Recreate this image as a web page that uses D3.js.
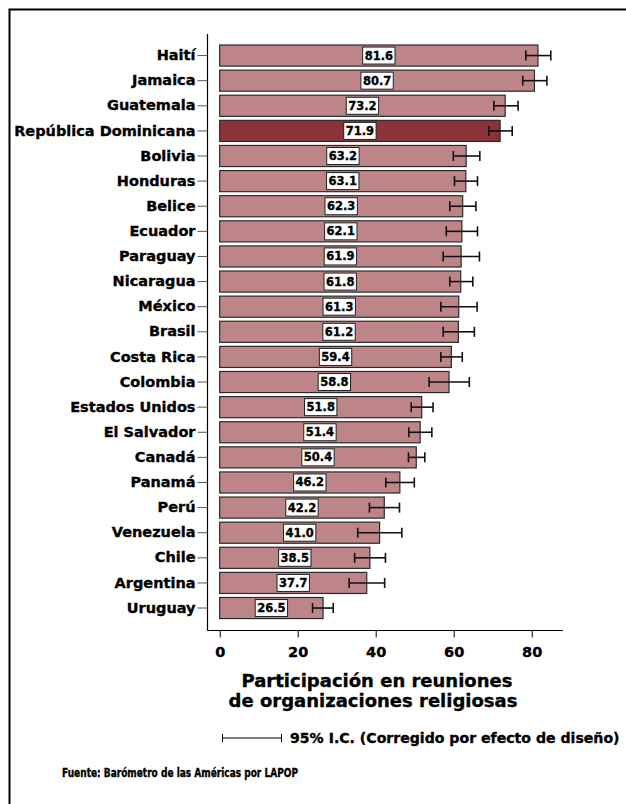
<!DOCTYPE html>
<html><head><meta charset="utf-8">
<script src="https://cdn.jsdelivr.net/npm/d3@7"></script>
<style>
html,body{margin:0;padding:0;background:#fff;}
svg text{font-family:"DejaVu Sans",sans-serif;font-weight:bold;fill:#000;stroke:#000;stroke-width:0.35px;}
</style></head>
<body>
<svg id="chart" width="626" height="804"></svg>
<script>
const countries = ["Haití","Jamaica","Guatemala","República Dominicana","Bolivia","Honduras","Belice","Ecuador","Paraguay","Nicaragua","México","Brasil","Costa Rica","Colombia","Estados Unidos","El Salvador","Canadá","Panamá","Perú","Venezuela","Chile","Argentina","Uruguay"];
const values = [81.6,80.7,73.2,71.9,63.2,63.1,62.3,62.1,61.9,61.8,61.3,61.2,59.4,58.8,51.8,51.4,50.4,46.2,42.2,41.0,38.5,37.7,26.5];
const lower = [78.5,77.7,70.3,69.0,59.9,60.2,59.0,58.1,57.3,59.0,56.7,57.3,56.7,53.7,49.1,48.5,48.4,42.6,38.4,35.4,34.6,33.2,23.8];
const upper = [84.9,83.9,76.5,75.0,66.7,66.1,65.7,66.1,66.6,64.9,66.0,65.3,62.2,64.0,54.7,54.4,52.6,49.9,46.1,46.7,42.5,42.3,29.1];
const highlight = "República Dominicana";
const xTicks = [0,20,40,60,80];
const xTitle = ["Participación en reuniones","de organizaciones religiosas"];
const legendText = "95% I.C. (Corregido por efecto de diseño)";
const sourceText = "Fuente: Barómetro de las Américas por LAPOP";

const data = countries.map((c,i)=>({c, v:values[i], lo:lower[i], hi:upper[i]}));
const svg = d3.select("#chart");

// frame
svg.append("rect").attr("x",9.5).attr("y",9.5).attr("width",800).attr("height",900)
  .attr("fill","none").attr("stroke","#000").attr("stroke-width",2);

const x = d3.scaleLinear().domain([0,88]).range([219.7,562.9]);
const y = d3.scaleBand().domain(countries).range([43,620.6]).paddingInner(0.16).paddingOuter(0.08);

// axes lines
const axisX0 = 207.5, axisY = 630.5, axisTop = 34;
svg.append("line").attr("x1",axisX0).attr("x2",axisX0).attr("y1",axisTop).attr("y2",axisY)
  .attr("stroke","#000").attr("stroke-width",1.2);
svg.append("line").attr("x1",axisX0).attr("x2",x(88)).attr("y1",axisY).attr("y2",axisY)
  .attr("stroke","#000").attr("stroke-width",1.2);

// y axis ticks and labels
const yAxis = d3.axisLeft(y).tickSize(10).tickSizeOuter(0).tickPadding(2);
const gy = svg.append("g").attr("transform",`translate(${axisX0},0)`).call(yAxis);
gy.select(".domain").remove();
gy.selectAll(".tick line").attr("stroke","#555").attr("stroke-width",1);
gy.selectAll(".tick text").style("font-size","14.5px").style("font-family","DejaVu Sans").style("font-weight","bold").attr("fill","#000");

// x axis
const xAxis = d3.axisBottom(x).tickValues(xTicks).tickSize(7).tickPadding(9).tickFormat(d3.format("d"));
const gx = svg.append("g").attr("transform",`translate(0,${axisY})`).call(xAxis);
gx.select(".domain").remove();
gx.selectAll(".tick line").attr("stroke","#000").attr("stroke-width",1);
gx.selectAll(".tick text").style("font-size","14.5px").style("font-family","DejaVu Sans").style("font-weight","bold").attr("fill","#000");

// bars
svg.append("g").selectAll("rect").data(data).join("rect")
  .attr("x",x(0)).attr("y",d=>y(d.c)).attr("width",d=>x(d.v)-x(0)).attr("height",y.bandwidth())
  .attr("fill",d=>d.c===highlight?"#8c323b":"#bd8588")
  .attr("stroke","#2a2a2a").attr("stroke-width",1.2);

// error bars
const eb = svg.append("g").attr("stroke","#111").attr("stroke-width",1.6);
data.forEach(d=>{
  const cy = y(d.c)+y.bandwidth()/2;
  eb.append("line").attr("x1",x(d.lo)).attr("x2",x(d.hi)).attr("y1",cy).attr("y2",cy);
  eb.append("line").attr("x1",x(d.lo)).attr("x2",x(d.lo)).attr("y1",cy-5).attr("y2",cy+5);
  eb.append("line").attr("x1",x(d.hi)).attr("x2",x(d.hi)).attr("y1",cy-5).attr("y2",cy+5);
});

// value labels
const lab = svg.append("g");
data.forEach(d=>{
  const cx = x(d.v/2), cy = y(d.c)+y.bandwidth()/2;
  const g = lab.append("g");
  const r = g.append("rect");
  const t = g.append("text").attr("x",cx).attr("y",cy).attr("text-anchor","middle")
    .attr("dominant-baseline","central").style("font-size","11.5px").text(d.v.toFixed(1));
  const w = t.node().getComputedTextLength()+4;
  r.attr("x",cx-w/2).attr("y",cy-8.5).attr("width",w).attr("height",17)
    .attr("fill","#fff").attr("stroke","#222").attr("stroke-width",1);
});

// x title
svg.append("text").attr("x",377).attr("y",687).attr("text-anchor","middle").style("font-size","18px").text(xTitle[0]);
svg.append("text").attr("x",373).attr("y",707).attr("text-anchor","middle").style("font-size","18px").text(xTitle[1]);

// legend
const ly = 738;
const lg = svg.append("g").attr("stroke","#000").attr("stroke-width",1);
lg.append("line").attr("x1",222).attr("x2",282).attr("y1",ly).attr("y2",ly);
lg.append("line").attr("x1",222.5).attr("x2",222.5).attr("y1",ly-4).attr("y2",ly+4);
lg.append("line").attr("x1",281.5).attr("x2",281.5).attr("y1",ly-4).attr("y2",ly+4);
svg.append("text").attr("x",290).attr("y",ly+5).style("font-size","14.1px").text(legendText);

// source
svg.append("text").attr("x",62).attr("y",777).style("font-size","11.5px")
  .attr("textLength",236).attr("lengthAdjust","spacingAndGlyphs").text(sourceText);
</script>
</body></html>
